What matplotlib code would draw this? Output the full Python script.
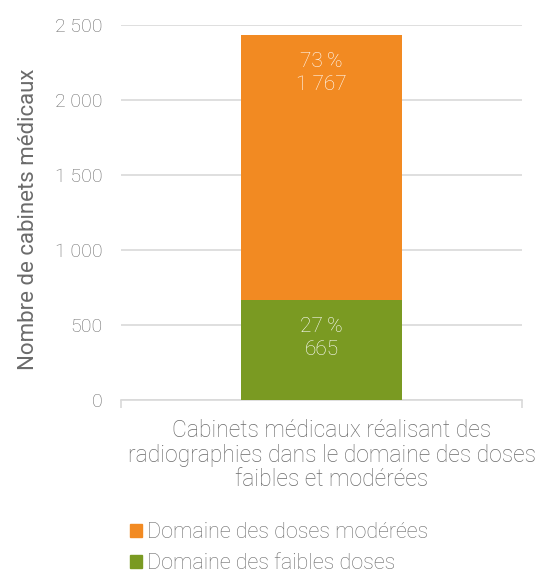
import matplotlib
matplotlib.use("Agg")
import matplotlib.pyplot as plt
from matplotlib.ticker import FuncFormatter, FixedLocator
from matplotlib.patches import Patch

plt.rcParams["font.family"] = ["Roboto", "DejaVu Sans"]
plt.rcParams["font.weight"] = "light"

category = "Cabinets médicaux réalisant des\nradiographies dans le domaine des doses\nfaibles et modérées"
series_names = ["Domaine des faibles doses", "Domaine des doses modérées"]
series_values = [665, 1767]
series_pct = ["27\u2009%", "73\u2009%"]
colors = ["#7A9A22", "#F28A22"]
ytick_values = [0, 500, 1000, 1500, 2000, 2500]

text_color = "#6B6B6B"

fig = plt.figure(figsize=(5.4, 5.74), dpi=100)
ax = fig.add_axes([121 / 540, 1 - 400 / 574, 401 / 540, 375 / 574])

bottom = 0
for name, val, pct, col in zip(series_names, series_values, series_pct, colors):
    ax.bar(0, val, width=0.4, bottom=bottom, color=col, label=name, zorder=3)
    top = bottom + val
    ax.text(0, top - 110, f"{pct}\n{val:,}".replace(",", " "),
            ha="center", va="top", color="white", fontsize=15,
            linespacing=1.3, zorder=4)
    bottom = top

ax.set_xlim(-0.5, 0.5)
ax.set_ylim(0, 2500)
ax.yaxis.set_major_locator(FixedLocator(ytick_values))
ax.yaxis.set_major_formatter(FuncFormatter(lambda v, p: f"{int(v):,}".replace(",", " ")))
ax.grid(axis="y", color="#D9D9D9", linewidth=1.2, zorder=0)
ax.set_axisbelow(True)

for s in ["top", "right", "left"]:
    ax.spines[s].set_visible(False)
ax.spines["bottom"].set_color("#D9D9D9")
ax.spines["bottom"].set_linewidth(1.2)

ax.tick_params(axis="y", length=0, labelsize=14, colors=text_color, pad=13)
ax.set_xticks([-0.5, 0.5])
ax.set_xticklabels(["", ""])
ax.tick_params(axis="x", length=6, width=1.2, color="#D9D9D9")

ax.set_ylabel("Nombre de cabinets médicaux", fontsize=16, color=text_color, labelpad=15)
ax.yaxis.set_label_coords(-0.205, 0.483)
ax.text(0.526, -0.05, category, transform=ax.transAxes, ha="center", va="top",
        fontsize=16.5, color=text_color, linespacing=1.1)

handles = [Patch(color=colors[1]), Patch(color=colors[0])]
fig.legend(handles, [series_names[1], series_names[0]], loc="upper left",
           bbox_to_anchor=(130 / 540, 1 - 522 / 574), frameon=False,
           fontsize=15.5, labelcolor=text_color, handlelength=0.55, handleheight=0.55,
           handletextpad=0.25, labelspacing=0.45, borderpad=0, borderaxespad=0)

fig.savefig("out.png", dpi=100)
